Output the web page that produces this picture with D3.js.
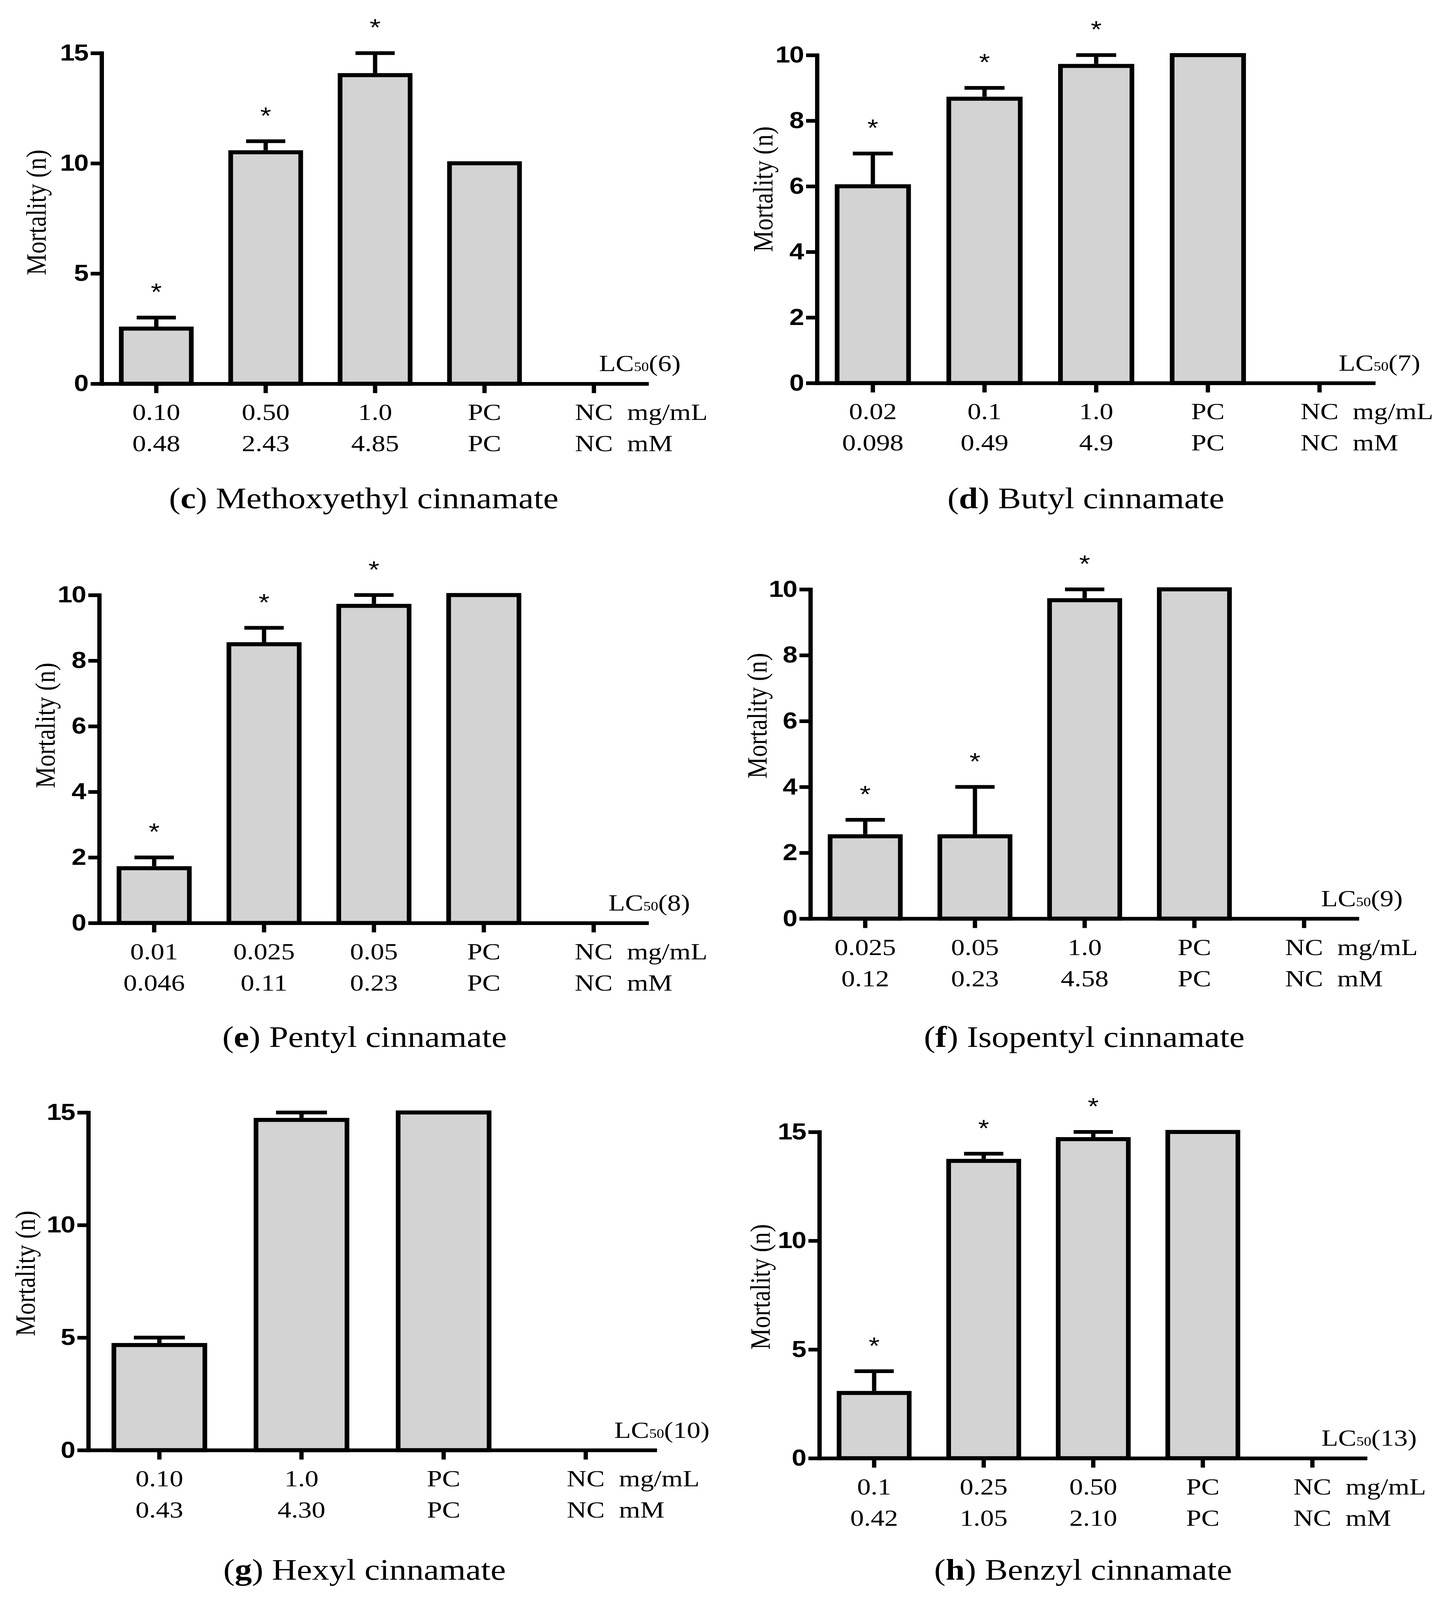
<!DOCTYPE html>
<html>
<head>
<meta charset="utf-8">
<script src="https://cdn.jsdelivr.net/npm/d3@7"></script>
<style>
  html, body { margin: 0; padding: 0; background: #fff; overflow: hidden; }
  #chart { display: block; width: 100vw; height: 100vh; }
</style>
</head>
<body>
<svg id="chart" viewBox="0 0 3711 4762" preserveAspectRatio="none"></svg>
<script>
// values (mortality, n)

// (c) Methoxyethyl cinnamate
const doseC = ["0.10", "0.50", "1.0", "PC", "NC"];
const molarC = ["0.48", "2.43", "4.85", "PC", "NC"];
const meanC = [2.5, 10.5, 14.0, 10, 0];
const errC = [0.5, 0.5, 1.0, 0, 0];
const starC = [1, 1, 1, 0, 0];

// (d) Butyl cinnamate
const doseD = ["0.02", "0.1", "1.0", "PC", "NC"];
const molarD = ["0.098", "0.49", "4.9", "PC", "NC"];
const meanD = [6.0, 8.67, 9.67, 10, 0];
const errD = [1.0, 0.33, 0.33, 0, 0];
const starD = [1, 1, 1, 0, 0];

// (e) Pentyl cinnamate
const doseE = ["0.01", "0.025", "0.05", "PC", "NC"];
const molarE = ["0.046", "0.11", "0.23", "PC", "NC"];
const meanE = [1.67, 8.5, 9.67, 10, 0];
const errE = [0.33, 0.5, 0.33, 0, 0];
const starE = [1, 1, 1, 0, 0];

// (f) Isopentyl cinnamate
const doseF = ["0.025", "0.05", "1.0", "PC", "NC"];
const molarF = ["0.12", "0.23", "4.58", "PC", "NC"];
const meanF = [2.5, 2.5, 9.67, 10, 0];
const errF = [0.5, 1.5, 0.33, 0, 0];
const starF = [1, 1, 1, 0, 0];

// (g) Hexyl cinnamate
const doseG = ["0.10", "1.0", "PC", "NC"];
const molarG = ["0.43", "4.30", "PC", "NC"];
const meanG = [4.67, 14.67, 15, 0];
const errG = [0.33, 0.33, 0, 0];
const starG = [0, 0, 0, 0];

// (h) Benzyl cinnamate
const doseH = ["0.1", "0.25", "0.50", "PC", "NC"];
const molarH = ["0.42", "1.05", "2.10", "PC", "NC"];
const meanH = [3.0, 13.67, 14.67, 15, 0];
const errH = [1.0, 0.33, 0.33, 0, 0];
const starH = [1, 1, 1, 0, 0];

const ticks15 = [0, 5, 10, 15];
const ticks10 = [0, 2, 4, 6, 8, 10];

const letters = ["c", "d", "e", "f", "g", "h"];
const names = ["Methoxyethyl cinnamate", "Butyl cinnamate", "Pentyl cinnamate",
  "Isopentyl cinnamate", "Hexyl cinnamate", "Benzyl cinnamate"];
const lcNumbers = ["6", "7", "8", "9", "10", "13"];

// where each panel sits on the page
const layout = [
  { left: 260, right: 1660, top: 158, zero: 1142, titleX: 117, titleY: 632, capX: 931, capY: 1513, lcX: 1742 },
  { left: 2091, right: 3520, top: 164, zero: 1140, titleX: 1977, titleY: 563, capX: 2779, capY: 1513, lcX: 3635 },
  { left: 254, right: 1660, top: 1771, zero: 2747, titleX: 140, titleY: 2159, capX: 933, capY: 3116, lcX: 1766 },
  { left: 2074, right: 3478, top: 1754, zero: 2734, titleX: 1962, titleY: 2130, capX: 2775, capY: 3116, lcX: 3590 },
  { left: 226, right: 1681, top: 3311, zero: 4316, titleX: 89, titleY: 3790, capX: 933, capY: 4702, lcX: 1816 },
  { left: 2097, right: 3499, top: 3369, zero: 4340, titleX: 1970, titleY: 3830, capX: 2772, capY: 4702, lcX: 3626 }
];

const panels = [
  { dose: doseC, molar: molarC, mean: meanC, err: errC, star: starC, ticks: ticks15 },
  { dose: doseD, molar: molarD, mean: meanD, err: errD, star: starD, ticks: ticks10 },
  { dose: doseE, molar: molarE, mean: meanE, err: errE, star: starE, ticks: ticks10 },
  { dose: doseF, molar: molarF, mean: meanF, err: errF, star: starF, ticks: ticks10 },
  { dose: doseG, molar: molarG, mean: meanG, err: errG, star: starG, ticks: ticks15 },
  { dose: doseH, molar: molarH, mean: meanH, err: errH, star: starH, ticks: ticks15 }
];

const serif = "'Liberation Serif', 'Times New Roman', serif";
const sans = "'Liberation Sans', Arial, sans-serif";
const lw = 11;

const svg = d3.select("#chart");
svg.append("rect").attr("width", 3711).attr("height", 4762).attr("fill", "#fff");

panels.forEach((p, i) => {
  const L = layout[i];
  const g = svg.append("g");

  const rows = p.dose.map((d, k) => ({
    key: d + "|" + k, dose: d, molar: p.molar[k],
    mean: p.mean[k], err: p.err[k], star: p.star[k]
  }));

  const x = d3.scaleBand()
    .domain(rows.map(d => d.key))
    .range([L.left, L.right])
    .paddingInner(0.36)
    .paddingOuter(0.18);

  const y = d3.scaleLinear()
    .domain([0, d3.max(p.ticks)])
    .range([L.zero, L.top]);

  // bars
  g.selectAll("rect.bar")
    .data(rows.filter(d => d.mean > 0))
    .join("rect")
    .attr("class", "bar")
    .attr("x", d => x(d.key))
    .attr("y", d => y(d.mean))
    .attr("width", x.bandwidth())
    .attr("height", d => y(0) - y(d.mean))
    .attr("fill", "#d3d3d3")
    .attr("stroke", "#000")
    .attr("stroke-width", 12);

  // error bars (upper only)
  const withErr = rows.filter(d => d.err > 0);
  const cx = d => x(d.key) + x.bandwidth() / 2;
  const capHalf = x.bandwidth() * 0.28;

  g.selectAll("line.err")
    .data(withErr)
    .join("line")
    .attr("class", "err")
    .attr("x1", cx).attr("x2", cx)
    .attr("y1", d => y(d.mean) - 6)
    .attr("y2", d => y(d.mean + d.err))
    .attr("stroke", "#000")
    .attr("stroke-width", lw);

  g.selectAll("line.cap")
    .data(withErr)
    .join("line")
    .attr("class", "cap")
    .attr("x1", d => cx(d) - capHalf)
    .attr("x2", d => cx(d) + capHalf)
    .attr("y1", d => y(d.mean + d.err))
    .attr("y2", d => y(d.mean + d.err))
    .attr("stroke", "#000")
    .attr("stroke-width", lw);

  // significance stars
  g.selectAll("text.star")
    .data(rows.filter(d => d.star))
    .join("text")
    .attr("class", "star")
    .attr("x", cx)
    .attr("y", d => y(d.mean + d.err) - 52)
    .attr("text-anchor", "middle")
    .attr("font-family", sans)
    .attr("font-size", 72)
    .text("*");

  // y axis
  const yAxis = g.append("g")
    .attr("transform", `translate(${L.left},0)`)
    .call(d3.axisLeft(y).tickValues(p.ticks).tickFormat(d3.format("d"))
      .tickSize(28).tickSizeOuter(0).tickPadding(7));
  yAxis.select(".domain").attr("stroke-width", lw).attr("stroke-linecap", "square");
  yAxis.selectAll(".tick line").attr("stroke-width", lw);
  yAxis.selectAll(".tick text")
    .attr("font-family", sans)
    .attr("font-weight", "bold")
    .attr("font-size", 68)
    .attr("letter-spacing", -2)
    .attr("fill", "#000");

  // x axis
  const xAxis = g.append("g")
    .attr("transform", `translate(0,${L.zero})`)
    .call(d3.axisBottom(x).tickSize(28).tickSizeOuter(0).tickFormat(""));
  xAxis.select(".domain").attr("stroke-width", lw);
  xAxis.selectAll(".tick line").attr("stroke-width", lw);

  // two rows of category labels
  const labelRow = (field, dy, unit) => {
    g.selectAll("text.row-" + field)
      .data(rows)
      .join("text")
      .attr("class", "row-" + field)
      .attr("x", cx)
      .attr("y", L.zero + dy)
      .attr("text-anchor", "middle")
      .attr("font-family", serif)
      .attr("font-size", 70)
      .text(d => d[field]);
    g.append("text")
      .attr("x", cx(rows[rows.length - 1]) + 85)
      .attr("y", L.zero + dy)
      .attr("font-family", serif)
      .attr("font-size", 70)
      .text(unit);
  };
  labelRow("dose", 108, "mg/mL");
  labelRow("molar", 201, "mM");

  // LC50 note
  const lc = g.append("text")
    .attr("x", L.lcX)
    .attr("y", L.zero - 37)
    .attr("text-anchor", "end")
    .attr("font-family", serif)
    .attr("font-size", 70);
  lc.append("tspan").text("LC");
  lc.append("tspan").attr("font-size", 38).text("50");
  lc.append("tspan").text("(" + lcNumbers[i] + ")");

  // y title
  g.append("text")
    .attr("transform", `translate(${L.titleX},${L.titleY}) rotate(-90)`)
    .attr("text-anchor", "middle")
    .attr("font-family", serif)
    .attr("font-size", 72)
    .text("Mortality (n)");

  // caption
  const cap = g.append("text")
    .attr("x", L.capX)
    .attr("y", L.capY)
    .attr("text-anchor", "middle")
    .attr("font-family", serif)
    .attr("font-size", 88);
  cap.append("tspan").text("(");
  cap.append("tspan").attr("font-weight", "bold").text(letters[i]);
  cap.append("tspan").text(") " + names[i]);
});
</script>
</body>
</html>
